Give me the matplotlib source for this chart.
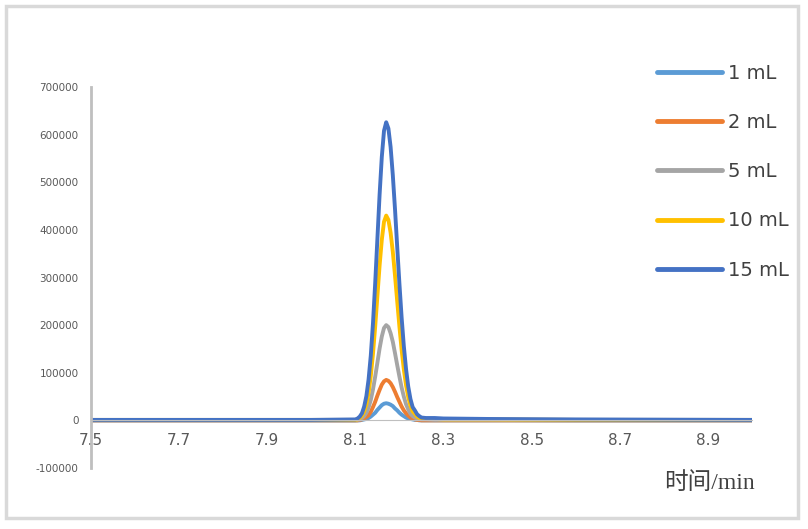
import matplotlib.pyplot as plt
from matplotlib.patches import Rectangle

# 保留时间 (min)
time = [7.50, 8.00,
        8.100, 8.105, 8.110, 8.115, 8.120, 8.125, 8.130, 8.135, 8.140, 8.145,
        8.150, 8.155, 8.160, 8.165, 8.170, 8.175, 8.180, 8.185, 8.190, 8.195,
        8.200, 8.205, 8.210, 8.215, 8.220, 8.225, 8.230, 8.235, 8.240, 8.245,
        8.250,
        8.26, 8.28, 8.30, 8.40, 8.60, 9.00]

# 峰强度 (千)
s1 = [0, 0,
      0, 0, 0, 1, 2, 3, 5, 8, 12, 16, 22, 27, 32, 35, 36,
      35, 33, 30, 25, 21, 16, 12, 9, 6, 4, 3, 2, 1, 1, 0, 0,
      0, 0, 0, 0, 0, 0]
s2 = [0, 0,
      0, 0, 1, 2, 4, 7, 11, 18, 28, 39, 52, 64, 75, 82, 85,
      83, 78, 70, 60, 49, 39, 29, 21, 15, 10, 6, 4, 2, 1, 1, 0,
      0, 0, 0, 0, 0, 0]
s5 = [0, 0,
      0, 1, 2, 5, 9, 16, 27, 43, 65, 92, 121, 151, 176, 194, 200,
      196, 183, 165, 141, 116, 92, 69, 50, 34, 23, 14, 9, 6, 4, 3, 2,
      2, 1, 1, 1, 0, 0]
s10 = [1, 1,
       1, 2, 5, 10, 19, 34, 58, 93, 140, 197, 261, 325, 379, 417, 430,
       421, 394, 354, 304, 250, 197, 148, 107, 74, 49, 31, 19, 14, 8, 5, 4,
       3, 3, 2, 2, 1, 1]
s15 = [1, 1,
       2, 4, 8, 15, 29, 51, 86, 136, 204, 288, 381, 474, 553, 608, 626,
       613, 574, 515, 443, 364, 287, 216, 156, 108, 71, 45, 28, 21, 13, 9, 6,
       5, 5, 4, 3, 2, 1]

labels = ['1 mL', '2 mL', '5 mL', '10 mL', '15 mL']
colors = ['#5B9BD5', '#ED7D31', '#A5A5A5', '#FFC000', '#4472C4']
xticks = [7.5, 7.7, 7.9, 8.1, 8.3, 8.5, 8.7, 8.9]
yticks = [-100, 0, 100, 200, 300, 400, 500, 600, 700]

fig = plt.figure(figsize=(8.08, 5.29), dpi=100)
fig.patches.append(Rectangle((0.008, 0.02), 0.98, 0.968, transform=fig.transFigure,
                             fill=False, edgecolor='#D9D9D9', linewidth=2.5))
ax = fig.add_axes([0.1126, 0.1153, 0.818, 0.7202])

for ser, lab, c in zip([s1, s2, s5, s10, s15], labels, colors):
    ax.plot(time, ser, color=c, linewidth=2.8, label=lab, solid_joinstyle='round',
            solid_capstyle='round')

ax.set_xlim(7.5, 9.0)
ax.set_ylim(-100, 700)
ax.set_xticks(xticks)
ax.set_xticklabels([str(t) for t in xticks])
ax.set_yticks(yticks)
ax.set_yticklabels([str(t * 1000) for t in yticks])

for s in ['top', 'right']:
    ax.spines[s].set_visible(False)
ax.spines['bottom'].set_position(('data', 0))
ax.spines['bottom'].set_color('#BFBFBF')
ax.spines['left'].set_color('#BFBFBF')
ax.spines['left'].set_linewidth(2)
ax.tick_params(axis='x', length=0, pad=9, labelsize=11, labelcolor='#595959')
ax.tick_params(axis='y', length=0, pad=9, labelsize=7.5, labelcolor='#595959')

fig.legend(loc='upper left', bbox_to_anchor=(0.8137, 0.879), frameon=False,
           fontsize=14, handlelength=3.3, handletextpad=0.35, labelspacing=1.55,
           borderpad=0, borderaxespad=0, labelcolor='#404040')
for l in fig.legends[0].get_lines():
    l.set_linewidth(3.5)

fig.text(0.934, 0.087, '时间/min', ha='right', va='center', fontsize=17,
         family=['Liberation Serif', 'Noto Sans CJK SC'], color='#404040')

fig.savefig('out.png', dpi=100)
